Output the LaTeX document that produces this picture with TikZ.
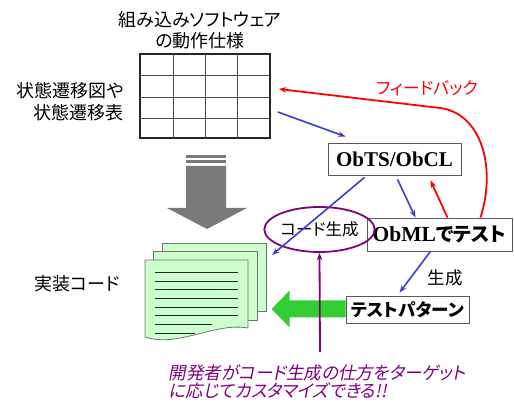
\documentclass[tikz,border=0pt]{standalone}
\usepackage{fontspec}
\setmainfont{Liberation Serif}
\newfontfamily\jp[RawFeature=+palt]{Noto Sans CJK JP}
\newfontfamily\jpslant[RawFeature=+palt,FakeSlant=0.2]{Noto Sans CJK JP}
\usepackage{tikz}
\usetikzlibrary{
    arrows.meta, % for the small arrow tips
    shapes.geometric, % for the ellipse round the code generator
    positioning % for placing nodes relative to other nodes
}
\definecolor{flowblue}{RGB}{60,60,210}
\definecolor{devpurple}{RGB}{128,0,128}
\definecolor{patgreen}{RGB}{50,205,50}
\definecolor{pagegreen}{RGB}{204,255,204}

\begin{document}
\begin{tikzpicture}[
        x=1pt,y=-1pt,>={Stealth[length=7.5pt,width=5.5pt]},
        every node/.style  = {inner sep=0pt},
        jtext/.style       = {font=\jp\fontsize{18}{21}\selectfont,align=center},
        box/.style         = {draw=black!65,fill=white,line width=0.8pt},
        flow/.style        = {->,draw=flowblue,line width=1.6pt},
        back/.style        = {->,draw=red,line width=1.8pt},
        dev/.style         = {->,draw=devpurple,line width=1.8pt},
        page/.style        = {draw=black!55,fill=pagegreen,line width=0.8pt}
    ]
    \useasboundingbox (0,0) rectangle (514,403);

    % state table with its captions

        \node [draw=black!85,line width=1.6pt,minimum width=130pt,minimum height=84pt] (tbl) at (205,96) {};
        \foreach \x in {173,205,237} \draw [black!70,line width=0.8pt] (\x,54) -- (\x,138);
        \foreach \y in {75,97,118}   \draw [black!70,line width=0.8pt] (140,\y) -- (270,\y);

        \node [jtext] (spec) at (200,30) {組み込みソフトウェア\\の動作仕様};
        \node [jtext,align=right,anchor=east,font=\jp\fontsize{18}{22}\selectfont] (states) at (124,102) {状態遷移図や\\状態遷移表};

    % gray arrow down to the code

        \fill [black!52] (186,155) rectangle (226,158);
        \fill [black!52] (186,160) rectangle (226,163);
        \fill [black!52] (186,166) -- (226,166) -- (226,208) -- (247,208) -- (207,229)
                         -- (167,208) -- (186,208) -- cycle;

    % pages of generated code

        \filldraw [page] (162,243) rectangle (266,311);
        \filldraw [page] (153,251) rectangle (257,320);
        \filldraw [page] (145,260) -- (248,260) -- (248,328)
                         .. controls (215,322) and (178,348) .. (145,337) -- cycle;
        \foreach \y in {272,281,289,298,307,315} \draw [black!85] (155,\y) -- (238,\y);
        \draw [black!85] (155,324) -- (212,324);
        \draw [black!85] (155,333) -- (195,333);
        \coordinate (codein) at (272,255);

        \node [jtext] (impl) at (77,284) {実装コード};

    % tool chain

        \node [box,minimum width=133pt,minimum height=32pt] (obts) at (394.5,159)
              {\fontsize{21}{21}\selectfont\bfseries ObTS/ObCL};
        \node [box,minimum width=145pt,minimum height=33pt] (obml) at (439.5,234.5)
              {\fontsize{21.5}{21}\selectfont\bfseries ObML{\jp\fontsize{19.5}{21}\selectfont でテスト}};
        \node [box,minimum width=123pt,minimum height=27pt] (testpat) at (407.5,309.5)
              {\jp\fontsize{17.5}{21}\selectfont\bfseries テストパターン};
        \node [draw=devpurple,line width=1.8pt,ellipse,minimum width=105pt,minimum height=45pt,
               jtext,font=\jp\fontsize{16.5}{21}\selectfont] (codegen) at (319.5,229.5) {コード生成};

        \node [jtext,text=red,font=\jp\fontsize{17}{21}\selectfont] (feedback) at (427,88) {フィードバック};
        \node [jtext,font=\jp\fontsize{17.5}{21}\selectfont] (gen) at (445,278) {生成};

        \draw [flow] ([xshift=7pt,yshift=-16pt]tbl.east) -- ([xshift=18pt,yshift=6pt]obts.north west);
        \draw [flow] ([xshift=3pt,yshift=-4pt]obts.south) -- ([xshift=-24pt]obml.north);
        \draw [flow] ([xshift=-30pt,yshift=-2pt]obts.south) -- (codein);
        \draw [flow] ([xshift=-9pt]obml.south) -- ([xshift=-8pt,yshift=3pt]testpat.north);
        \draw [back] ([xshift=8pt]obml.north) -- ([xshift=36pt,yshift=-5pt]obts.south);
        \draw [back] ([xshift=41pt]obml.north) .. controls (497,165) and (480,113) .. (440,108)
                     -- ([xshift=8pt,yshift=7pt]tbl.east);

        % fat green arrow back to the code
        \fill [patgreen] (testpat.west) ++(0,-9) -- ++(-56,0) -- ++(0,-10) -- ++(-18,18.5)
                         -- ++(18,18.5) -- ++(0,-10) -- ++(56,0) -- cycle;

    % customisation note

        \node [jtext,align=left,text=devpurple,font=\jpslant\fontsize{17.5}{18.5}\selectfont]
              (note) at (317.5,382) {開発者がコード生成の仕方をターゲット\\に応じてカスタマイズできる!!};
        \coordinate (devin) at (320,352);
        \draw [dev] (devin) -- (codegen.south);

\end{tikzpicture}
\end{document}
